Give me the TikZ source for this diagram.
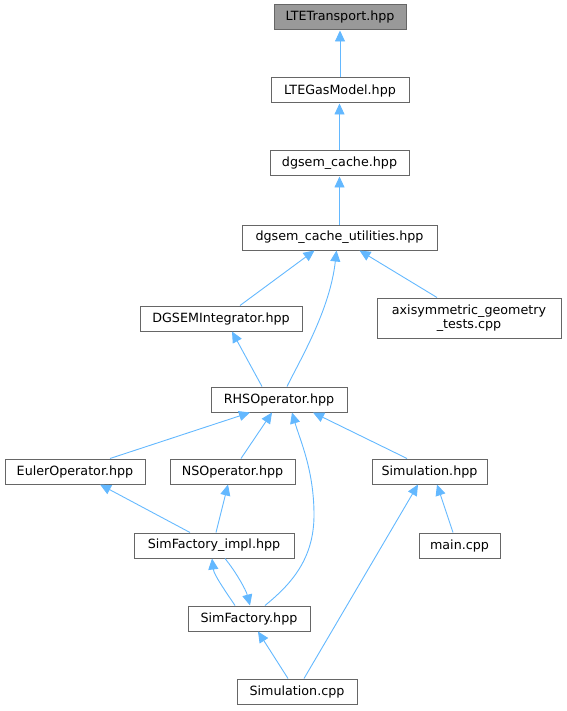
\documentclass[tikz,border=0pt]{standalone}
\usepackage{fontspec}
\setmainfont{DejaVu Sans}
\usetikzlibrary{arrows.meta}
\definecolor{edgeblue}{HTML}{63B8FF}
\definecolor{boxline}{HTML}{666666}
\definecolor{topfill}{HTML}{999999}
\begin{document}
\begin{tikzpicture}[x=1pt,y=-1pt,
  box/.style={draw=boxline,line width=1pt,fill=white,inner sep=0pt,minimum height=25pt,
    font=\fontsize{12.7}{14.5}\selectfont,align=center},
  topbox/.style={box,fill=topfill},
  edge/.style={draw=edgeblue,line width=0.9pt,-{Triangle[length=11pt,width=10pt]}}]
\useasboundingbox (0,0) rectangle (566,711);
\node[topbox,minimum width=132pt] (lte) at (340,17.5) {LTETransport.hpp};
\node[box,minimum width=138pt] (gas) at (340,90.5) {LTEGasModel.hpp};
\node[box,minimum width=139pt] (cache) at (339.5,163.5) {dgsem\_cache.hpp};
\node[box,minimum width=195pt] (util) at (339.5,237.5) {dgsem\_cache\_utilities.hpp};
\node[box,minimum width=162pt] (dgint) at (221,318.5) {DGSEMIntegrator.hpp};
\node[box,minimum width=184pt,minimum height=40pt] (axi) at (469,318) {axisymmetric\_geometry\\\_tests.cpp};
\node[box,minimum width=136pt] (rhs) at (279,399.5) {RHSOperator.hpp};
\node[box,minimum width=140pt] (euler) at (75,471.5) {EulerOperator.hpp};
\node[box,minimum width=125pt] (ns) at (232.5,471.5) {NSOperator.hpp};
\node[box,minimum width=115pt] (simh) at (429.5,471.5) {Simulation.hpp};
\node[box,minimum width=160pt] (impl) at (214,545.5) {SimFactory\_impl.hpp};
\node[box,minimum width=81pt] (mainc) at (459.5,545.5) {main.cpp};
\node[box,minimum width=122pt] (fact) at (249,618.5) {SimFactory.hpp};
\node[box,minimum width=120pt] (simc) at (297,691.5) {Simulation.cpp};

\draw[edge] (gas.north) -- (lte.south);
\draw[edge] (cache.north) -- (cache.north |- gas.south);
\draw[edge] (util.north) -- (util.north |- cache.south);
\draw[edge] ([xshift=19pt]dgint.north) -- ([xshift=-25pt]util.south);
\draw[edge] ([xshift=8pt]rhs.north) .. controls (300,360) and (330,310) .. ([xshift=-3pt]util.south);
\draw[edge] ([xshift=-32pt]axi.north) -- ([xshift=20pt]util.south);
\draw[edge] ([xshift=-17pt]rhs.north) -- ([xshift=11pt]dgint.south);
\draw[edge] ([xshift=35pt]euler.north) -- ([xshift=-29pt]rhs.south);
\draw[edge] ([xshift=8.5pt]ns.north) -- ([xshift=-7pt]rhs.south);
\draw[edge] ([xshift=16pt]fact.north) .. controls (290,585) and (314,560) .. (314,515)
  .. controls (314,470) and (300,440) .. ([xshift=13pt]rhs.south);
\draw[edge] ([xshift=-22.5pt]simh.north) -- ([xshift=34pt]rhs.south);
\draw[edge] ([xshift=-24pt]impl.north) -- ([xshift=25pt]euler.south);
\draw[edge] ([xshift=2pt]impl.north) -- ([xshift=-4.5pt]ns.south);
\draw[edge] ([xshift=-14pt]fact.north) .. controls (226,592) and (214,575) .. ([xshift=-2pt]impl.south);
\draw[edge] ([xshift=11pt]impl.south) .. controls (236,572) and (246,590) .. ([xshift=1pt]fact.north);
\draw[edge] ([xshift=-6.5pt]mainc.north) -- ([xshift=7.5pt]simh.south);
\draw[edge] ([xshift=7pt]simc.north) -- ([xshift=-11.5pt]simh.south);
\draw[edge] ([xshift=-9pt]simc.north) -- ([xshift=9pt]fact.south);
\end{tikzpicture}
\end{document}
